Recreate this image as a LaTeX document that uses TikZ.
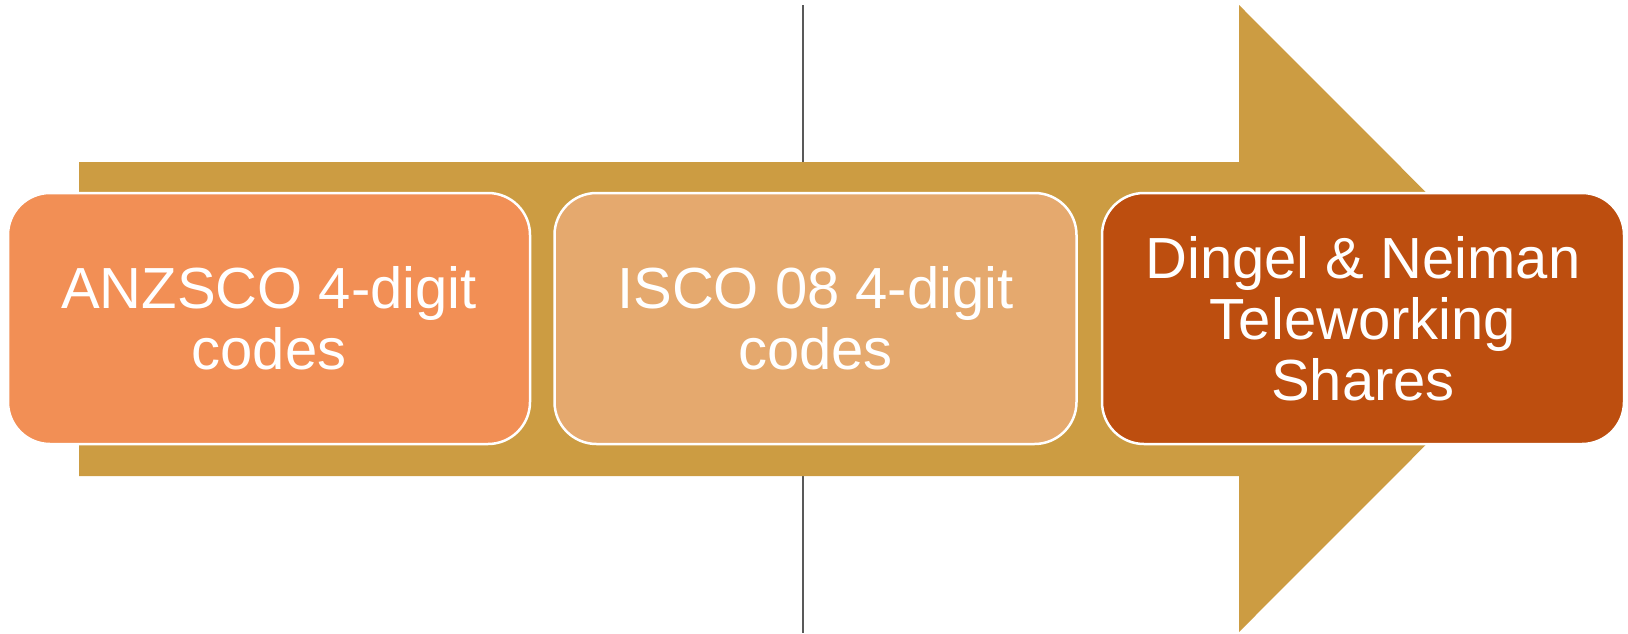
\documentclass[tikz,border=0pt]{standalone}
\usepackage{fontspec}
\setmainfont{Liberation Sans}
\definecolor{arrowgold}{RGB}{204,156,66}
\definecolor{divgray}{RGB}{89,89,89}
\definecolor{anzscoorange}{RGB}{242,143,85}
\definecolor{iscotan}{RGB}{229,169,110}
\definecolor{dnrust}{RGB}{189,78,15}

\begin{document}
\begin{tikzpicture}
    [
    x=1pt,y=-1pt,
    stage/.style = {draw=white,line width=2.5pt,rounded corners=42pt,minimum width=522pt,minimum height=251pt,inner sep=0pt,align=center,text=white,font=\fontsize{58}{61}\selectfont}
    ]
\useasboundingbox (0,0) rectangle (1628,633);

\draw[divgray,line width=2pt] (803,5) -- (803,633);
\fill[arrowgold] (79,162) -- (1239,162) -- (1239,5) -- (1552,318.5) -- (1239,632) -- (1239,476) -- (79,476) -- cycle;

\node[stage,fill=anzscoorange] (anzsco) at (269,318.5) {ANZSCO 4-digit\\codes};
\node[stage,fill=iscotan] (isco) at (815.5,318.5) {ISCO 08 4-digit\\codes};
\node[stage,fill=dnrust] (dn) at (1363,318.5) {Dingel \& Neiman\\Teleworking\\Shares};

\end{tikzpicture}
\end{document}
